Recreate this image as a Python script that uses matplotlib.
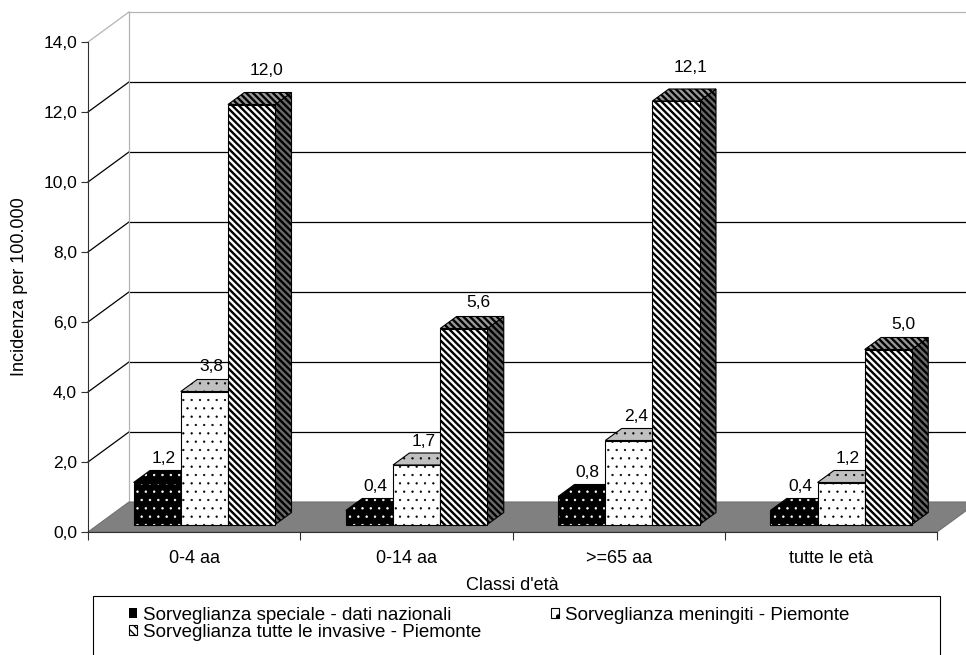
import matplotlib
matplotlib.use('Agg')
import matplotlib.pyplot as plt
from matplotlib.patches import Polygon, Patch, Rectangle

plt.rcParams['font.family'] = ['Liberation Sans', 'DejaVu Sans']
plt.rcParams['hatch.linewidth'] = 1.0

# incidenza per 100.000 per classe d'età
classi = ['0-4 aa', '0-14 aa', '>=65 aa', 'tutte le età']
serie = ['Sorveglianza speciale - dati nazionali',
         'Sorveglianza meningiti - Piemonte',
         'Sorveglianza tutte le invasive - Piemonte']
speciale = [1.2, 0.4, 0.8, 0.4]
meningiti = [3.8, 1.7, 2.4, 1.2]
invasive = [12.0, 5.6, 12.1, 5.0]
yticks = [0, 2, 4, 6, 8, 10, 12, 14]

fig = plt.figure(figsize=(9.66, 6.55), dpi=100)
ax = fig.add_axes([88/966, 123/655, 849/966, 490/655])
ax.set_xlim(0, 4)
ax.set_ylim(0, 14)

# profondità della scatola 3d (unità dati)
DX, DY = 0.193, 0.857
w = 1 / 4.5                      # larghezza barra
f0 = 0.25                        # posizione frontale delle barre
bd = 0.40                        # profondità delle barre
px_x, px_y = 4 / 849, 14 / 490   # un pixel in unità dati


def trama_lw(p, lw):
    if hasattr(p, 'set_hatch_linewidth'):
        p.set_hatch_linewidth(lw)
    return p


def faccia(pts, fc, hatch, hc, hlw, z):
    p = Polygon(pts, closed=True, facecolor=fc, edgecolor=hc,
                hatch=hatch, lw=0, zorder=z, clip_on=False)
    ax.add_patch(trama_lw(p, hlw))
    ax.add_patch(Polygon(pts, closed=True, fill=False, edgecolor='black',
                         lw=0.8, zorder=z + 0.01, clip_on=False))


# pavimento, pareti e griglia
ax.add_patch(Polygon([(0, 0), (4, 0), (4 + DX, DY), (DX, DY)], closed=True,
                     facecolor='#808080', edgecolor='#707070', lw=0.8,
                     zorder=1.5, clip_on=False))
for v in yticks[1:]:
    col = '#b4b4b4' if v == 14 else 'black'
    ax.plot([DX, 4 + DX + 0.2], [v + DY, v + DY], color=col, lw=0.9,
            zorder=1, clip_on=False)
    ax.plot([0, DX], [v, v + DY], color=col, lw=0.9, zorder=1, clip_on=False)
ax.plot([DX, DX], [DY, 14 + DY], color='#b4b4b4', lw=0.9, zorder=1,
        clip_on=False)

# stili: fronte, colore trama, sopra, lato, trama, spessore trama, spost. etichetta
stili = [
    ('black', 'white', 'black', 'black', '..', 0.5, 6),
    ('white', 'black', '#c0c0c0', '#909090', '..', 0.4, 7),
    ('white', 'black', '#9a9a9a', '#6a6a6a', '\\\\\\\\\\', 1.7, 15),
]

z = 3
for i in range(len(classi)):
    for j, valori in enumerate([speciale, meningiti, invasive]):
        v = valori[i]
        fc, hc, tc, sc, ht, hlw, dx_lab = stili[j]
        x0 = i + 0.5 - 1.5 * w + j * w + f0 * DX
        x1 = x0 + w
        y0 = f0 * DY
        bx, by = bd * DX, bd * DY
        faccia([(x1, y0), (x1 + bx, y0 + by), (x1 + bx, v + y0 + by),
                (x1, v + y0)], sc, ht, hc, hlw, z)
        faccia([(x0, v + y0), (x1, v + y0), (x1 + bx, v + y0 + by),
                (x0 + bx, v + y0 + by)], tc, ht, hc, hlw, z + 0.1)
        faccia([(x0, y0), (x1, y0), (x1, v + y0), (x0, v + y0)],
               fc, ht, hc, hlw, z + 0.2)
        gap = (4 + 0.07 * v * v) * px_y
        ax.text((x0 + x1) / 2 + dx_lab * px_x, v + y0 + by + gap,
                f'{v:.1f}'.replace('.', ','), ha='center', va='bottom',
                fontsize=12.5, zorder=100)
        z += 1

# assi
for s in ['top', 'right']:
    ax.spines[s].set_visible(False)
ax.spines['left'].set_color('#303030')
ax.spines['bottom'].set_color('#303030')
ax.set_yticks(yticks)
ax.set_yticklabels([f'{v:.1f}'.replace('.', ',') for v in yticks])
ax.tick_params(axis='y', length=5, pad=3, labelsize=12.5, color='#303030')
ax.set_xticks([0, 1, 2, 3, 4])
ax.set_xticklabels([])
ax.tick_params(axis='x', which='major', length=6, color='#303030')
ax.set_xticks([0.5, 1.5, 2.5, 3.5], minor=True)
ax.set_xticklabels(classi, minor=True)
ax.tick_params(axis='x', which='minor', length=0, pad=13, labelsize=13)
ax.set_ylabel('Incidenza per 100.000', fontsize=13)
ax.yaxis.set_label_coords(-(88 - 28) / 849, 0.5)
ax.set_xlabel("Classi d'età", fontsize=13)
ax.xaxis.set_label_coords(0.5, -(577 - 532) / 490)

# legenda
fig.add_artist(Rectangle((93/966, -0.1), (940 - 93)/966, 1 - 596/655 + 0.1,
                         transform=fig.transFigure, fill=False,
                         edgecolor='black', lw=0.8))
maniglie = [Patch(facecolor='black', edgecolor='white', lw=0, hatch='.'),
            Patch(facecolor='white', edgecolor='black', lw=0.8, hatch='.'),
            Patch(facecolor='white', edgecolor='black', lw=0.8,
                  hatch='\\\\\\\\')]
fig.legend([maniglie[0], maniglie[2], maniglie[1]],
           [serie[0], serie[2], serie[1]],
           ncol=2, loc='upper left', bbox_to_anchor=(129/966, 1 - 607/655),
           frameon=False, fontsize=13.5, handlelength=0.45, handleheight=0.45,
           handletextpad=0.3, columnspacing=3.7, labelspacing=0.0,
           borderpad=0, borderaxespad=0)

fig.savefig('out.png', dpi=100)
